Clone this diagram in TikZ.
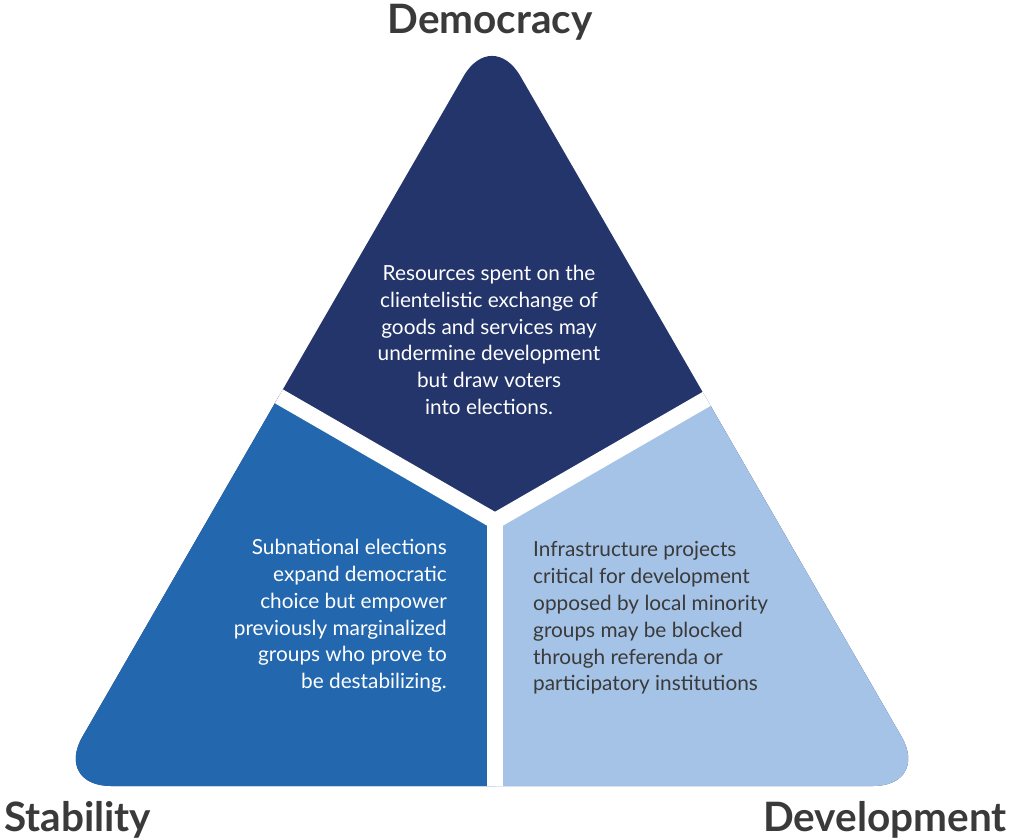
\documentclass[tikz,border=0pt]{standalone}
\usepackage{fontspec}
\setmainfont{Lato}
\definecolor{navy}{HTML}{23356A}
\definecolor{midblue}{HTML}{2367AF}
\definecolor{lightblue}{HTML}{A5C3E6}
\definecolor{labelgray}{HTML}{3A3A3A}
\begin{document}
\begin{tikzpicture}[x=1pt,y=-1pt,
  bodytext/.style={font=\fontsize{20.8}{26.8}\selectfont, inner sep=0pt},
  cornerlabel/.style={font=\fontsize{40.5}{44}\selectfont\bfseries, text=labelgray, inner sep=0pt},
  gap/.style={white, line width=16pt}]
\useasboundingbox (0,0) rectangle (1009,840);
\coordinate (A) at (492,27);
\coordinate (B) at (54,786);
\coordinate (C) at (930,786);
\coordinate (J) at (495,521);
\coordinate (FL) at (-25,221);
\coordinate (FR) at (1015,221);
\coordinate (FB) at (495,900);
\begin{scope}
  \clip[rounded corners=57pt] (A) -- (B) -- (C) -- cycle;
  \fill[navy] (0,0) rectangle (1009,840);
  \fill[midblue] (J) -- (FL) -- (-25,900) -- (FB) -- cycle;
  \fill[lightblue] (J) -- (FR) -- (1015,900) -- (FB) -- cycle;
  \draw[gap] (J) -- (FL);
  \draw[gap] (J) -- (FR);
  \draw[gap] (J) -- (FB);
\end{scope}
\node[bodytext, text=white, align=center] (toptext) at (489,340)
  {Resources spent on the\\clientelistic exchange of\\goods and services may\\undermine development\\but draw voters\\into elections.};
\node[bodytext, text=white, align=right, anchor=east] (lefttext) at (447,616)
  {Subnational elections\\expand democratic\\choice but empower\\previously marginalized\\groups who prove to\\be destabilizing.};
\node[bodytext, text=labelgray, align=left, anchor=west] (righttext) at (533,618)
  {Infrastructure projects\\critical for development\\opposed by local minority\\groups may be blocked\\through referenda or\\participatory institutions};
\node[cornerlabel] (dem) at (490,22) {Democracy};
\node[cornerlabel, anchor=west] (stab) at (4,820) {Stability};
\node[cornerlabel, anchor=east] (dev) at (1007,820) {Development};
\end{tikzpicture}
\end{document}
